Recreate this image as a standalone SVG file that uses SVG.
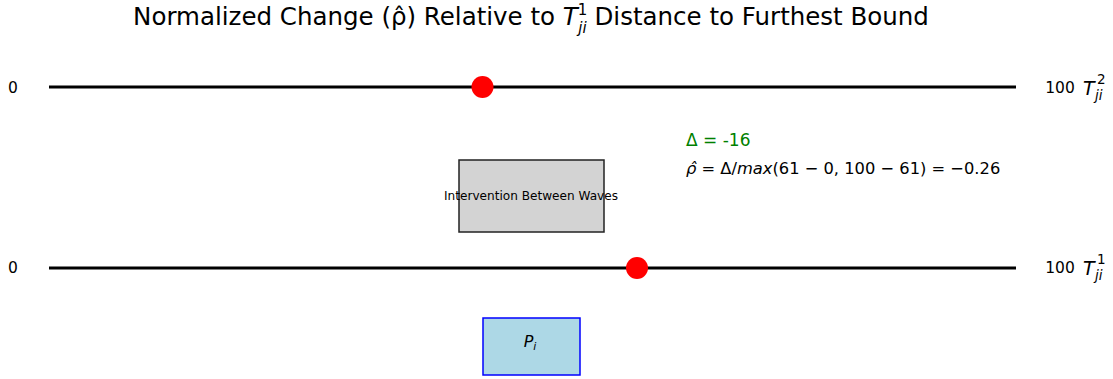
<svg xmlns="http://www.w3.org/2000/svg" width="1113" height="379" viewBox="0 0 1113 379">
<style>
text{font-family:"DejaVu Sans",sans-serif;fill:#000}
.axis{stroke:#000;stroke-width:3}
.lbl{font-size:15.5px}
.it{font-style:italic}
.dot{fill:#ff0000}
</style>
<rect width="1113" height="379" fill="#fff"/>
<text x="531" y="25" font-size="24.5" text-anchor="middle">Normalized Change (ρ̂) Relative to <tspan class="it">T</tspan><tspan font-size="15" dy="-10">1</tspan><tspan class="it" font-size="15" dx="-9" dy="18">ji</tspan><tspan dy="-8"> Distance to Furthest Bound</tspan></text>
<g id="connectors">
<line class="axis" x1="49" y1="87" x2="1016" y2="87"/>
<line class="axis" x1="49" y1="268" x2="1016" y2="268"/>
</g>
<g id="axis-T2">
<text class="lbl" x="13" y="93" text-anchor="middle">0</text>
<text class="lbl" x="1060" y="93" text-anchor="middle">100</text>
<text x="1083" y="95" font-size="19" class="it">T</text>
<text x="1097" y="84" font-size="13.5">2</text>
<text x="1095" y="100" font-size="13.5" class="it">ji</text>
</g>
<g id="axis-T1">
<text class="lbl" x="13" y="273" text-anchor="middle">0</text>
<text class="lbl" x="1060" y="273" text-anchor="middle">100</text>
<text x="1083" y="275" font-size="19" class="it">T</text>
<text x="1097" y="264" font-size="13.5">1</text>
<text x="1095" y="280" font-size="13.5" class="it">ji</text>
</g>
<g id="dot-T2"><circle class="dot" cx="482.5" cy="87" r="11"/></g>
<g id="dot-T1"><circle class="dot" cx="637" cy="268" r="11"/></g>
<g id="intervention">
<rect x="459" y="160" width="145" height="72" fill="#d3d3d3" stroke="#222" stroke-width="1.5"/>
<text x="531" y="200" font-size="12.1" text-anchor="middle" fill="#222">Intervention Between Waves</text>
</g>
<g id="Pi">
<rect x="483" y="318" width="97" height="57" fill="#add8e6" stroke="#0000ff" stroke-width="1.5"/>
<text x="530" y="347" font-size="16" text-anchor="middle" class="it">P<tspan font-size="11" dy="3">i</tspan></text>
</g>
<g id="annotation">
<text x="686" y="146" font-size="17" style="fill:#008000">Δ = -16</text>
<text x="686" y="174" font-size="16.3"><tspan class="it">ρ̂</tspan> = Δ/<tspan class="it">max</tspan>(61 − 0, 100 − 61) = −0.26</text>
</g>
</svg>
